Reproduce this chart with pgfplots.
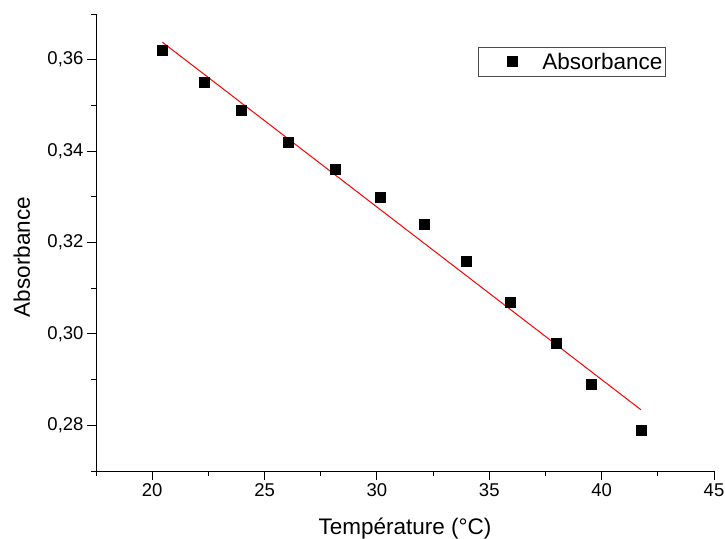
\documentclass[border=0pt]{standalone}
\usepackage{pgfplots}
\pgfplotsset{compat=1.18}
\usepackage{fontspec}
\setmainfont{Liberation Sans}
\begin{document}
\begin{tikzpicture}
\useasboundingbox (-96bp,-68bp) rectangle (629bp,471bp);
\begin{axis}[
  at={(0,0)}, anchor=south west,
  scale only axis, width=618bp, height=457bp,
  xmin=17.5, xmax=45, ymin=0.27, ymax=0.37,
  axis lines*=left,
  axis line style={-, line width=0.9bp},
  every tick/.style={black, line width=0.9bp},
  tick align=outside,
  major tick length=9bp, minor tick length=5bp,
  xtick={20,25,...,45},
  ytick={0.28,0.30,0.32,0.34,0.36},
  minor xtick={17.5,22.5,27.5,32.5,37.5,42.5},
  minor ytick={0.27,0.29,0.31,0.33,0.35,0.37},
  /pgf/number format/assume math mode=true,
  yticklabel style={/pgf/number format/.cd, fixed, fixed zerofill, precision=2, use comma},
  ticklabel style={font=\fontsize{18.5bp}{22bp}\selectfont},
  scaled y ticks=false,
  xlabel={Température (°C)},
  ylabel={Absorbance},
  xlabel style={at={(axis description cs:0.5,-0.138)}, anchor=base, font=\fontsize{22.5bp}{26bp}\selectfont},
  ylabel style={at={(axis description cs:-0.107,0.468)}, anchor=base, rotate=0, font=\fontsize{22.5bp}{26bp}\selectfont},
  legend style={at={(axis description cs:0.618,0.928)}, anchor=north west,
    draw=black!70, line width=0.6bp, inner xsep=0pt, inner ysep=3bp,
    font=\fontsize{22.5bp}{26bp}\selectfont, nodes={inner sep=2.5bp}},
  legend cell align=left,
  legend image code/.code={\path (0bp,-5bp) (61bp,5bp);
    \draw[mark repeat=2,mark phase=2] plot coordinates {(0bp,0bp)(34bp,0bp)(61bp,0bp)};},
]
\addplot[only marks, mark=square*, mark size=5bp, color=black] coordinates {
(20.46,0.362) (22.33,0.355) (23.97,0.349) (26.06,0.342) (28.15,0.336)
(30.15,0.330) (32.1,0.324) (33.97,0.316) (35.93,0.307) (37.97,0.298)
(39.53,0.289) (41.75,0.279)};
\addlegendentry{Absorbance}
\addplot[red, line width=1bp, forget plot] coordinates {(20.46,0.3638) (41.75,0.2834)};
\end{axis}
\end{tikzpicture}
\end{document}
